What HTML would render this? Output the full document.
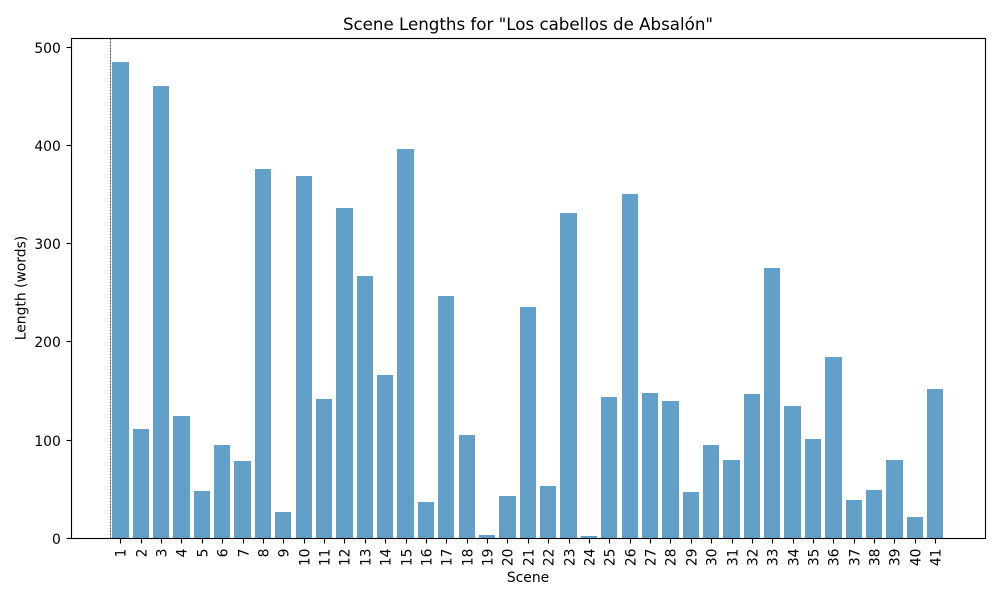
<!DOCTYPE html>
<html lang="en">
<head>
<meta charset="utf-8">
<title>Scene Lengths</title>
<style>
html,body{margin:0;padding:0;background:#fff;}
svg{display:block;font-family:"DejaVu Sans",sans-serif;fill:#000;}
</style>
</head>
<body>
<svg id="chart" width="1000" height="600" viewBox="0 0 1000 600" xmlns="http://www.w3.org/2000/svg">
  <rect width="1000" height="600" fill="#fff"></rect>
  <text x="528" y="30" text-anchor="middle" font-size="16.67">Scene Lengths for "Los cabellos de Absalón"</text>
  <text x="528" y="582" text-anchor="middle" font-size="13.89">Scene</text>
  <text transform="translate(25.5,288) rotate(-90)" text-anchor="middle" font-size="13.89">Length (words)</text>
  <g id="bars"></g>
  <line id="marker" stroke="#444" stroke-width="1" stroke-dasharray="2 1"></line>
  <g id="xticks"></g>
  <g id="yticks"></g>
  <rect x="71.5" y="38.5" width="914" height="500" fill="none" stroke="#000" stroke-width="1.11"></rect>
</svg>
<script>
const scenes = [1,2,3,4,5,6,7,8,9,10,11,12,13,14,15,16,17,18,19,20,21,22,23,24,25,26,27,28,29,30,31,32,33,34,35,36,37,38,39,40,41];
const lengths = [485,111,461,125,48,95,79,376,27,369,142,336,267,166,396,37,247,105,3,43,236,53,331,2,144,351,148,140,47,95,80,147,275,135,101,185,39,49,80,22,152];
const yTickValues = [0,100,200,300,400,500];
const markerPosition = 0.5;

const NS = 'http://www.w3.org/2000/svg';
const xScale = function (v) { return 120.36 + (v - 1) * 20.372; };
const yScale = function (v) { return 538.3 - v * 0.982; };
const barWidth = 0.8;

function svgEl(tag, attrs) {
  const el = document.createElementNS(NS, tag);
  Object.keys(attrs).forEach(function (k) { el.setAttribute(k, attrs[k]); });
  return el;
}

const barsGroup = document.getElementById('bars');
const xGroup = document.getElementById('xticks');
const yGroup = document.getElementById('yticks');

scenes.forEach(function (scene, i) {
  const half = barWidth * (xScale(1) - xScale(0)) / 2;
  const left = Math.round(xScale(scene) - half);
  const right = Math.round(xScale(scene) + half);
  const top = Math.round(yScale(lengths[i]));
  const bottom = Math.floor(yScale(0));
  const bar = svgEl('rect', {
    x: left,
    y: top,
    width: right - left,
    height: bottom - top,
    fill: '#1f77b4',
    'fill-opacity': 0.7,
    'shape-rendering': 'crispEdges'
  });
  
  
  barsGroup.appendChild(bar);

  const px = Math.round(xScale(scene)) + 0.5;
  const tick = svgEl('line', { x1: px, x2: px, y1: 538.5, y2: 543.5, stroke: '#000', 'stroke-width': 1.11 });
  
  
  xGroup.appendChild(tick);

  const label = svgEl('text', {
    transform: 'translate(' + (px + 5) + ',548.5) rotate(-90)',
    'text-anchor': 'end',
    'font-size': 13.89
  });
  label.textContent = String(scene);
  
  
  xGroup.appendChild(label);
});

yTickValues.forEach(function (value) {
  const py = Math.floor(yScale(value)) + 0.5;
  const tick = svgEl('line', { x1: 66.5, x2: 71.5, y1: py, y2: py, stroke: '#000', 'stroke-width': 1.11 });
  
  
  yGroup.appendChild(tick);

  const label = svgEl('text', { x: 60.8, y: py + 5.5, 'text-anchor': 'end', 'font-size': 13.89 });
  label.textContent = String(value);
  
  
  yGroup.appendChild(label);
});

const marker = document.getElementById('marker');
const markerX = Math.floor(xScale(markerPosition)) + 0.5;
marker.setAttribute('x1', markerX);
marker.setAttribute('x2', markerX);
marker.setAttribute('y1', 38.5);
marker.setAttribute('y2', 538);
</script>
</body>
</html>
